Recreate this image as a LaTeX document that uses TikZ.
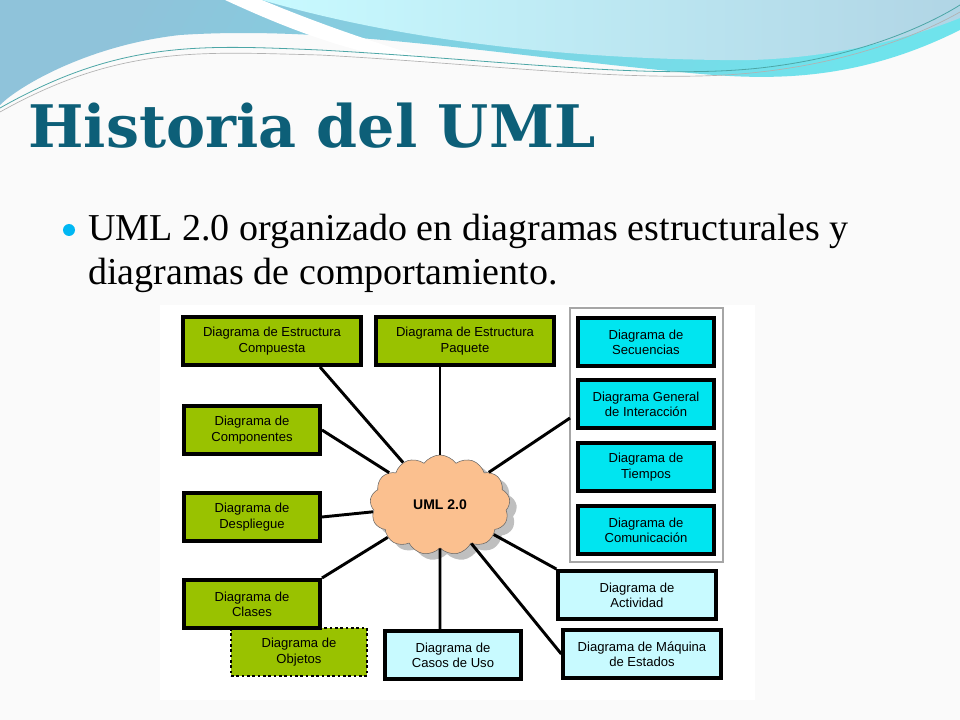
\documentclass[tikz,border=0pt]{standalone}
\usepackage{fontspec}
\setmainfont{Liberation Serif}
\newfontfamily\boxfont{Liberation Sans}
\newfontfamily\titlefont{DejaVu Serif}
\usetikzlibrary{shapes.symbols,positioning}
\definecolor{titleblue}{HTML}{0D5F78}
\definecolor{strgreen}{HTML}{99C200}
\definecolor{behcyan}{HTML}{00E5F0}
\definecolor{behlight}{HTML}{C8FAFF}
\definecolor{cloudorange}{HTML}{FBC08F}
\definecolor{wavea}{HTML}{8FC3DA}
\definecolor{waveb}{HTML}{6FE3EC}
\tikzset{
  diag/.style={draw=black, line width=3pt, align=center, inner sep=0pt,
    minimum height=36pt, font=\boxfont\fontsize{9.8}{11.5}\selectfont},
  strbox/.style={diag, fill=strgreen},
  behbox/.style={diag, fill=behcyan, minimum width=102pt},
  behlt/.style={diag, fill=behlight},
  link/.style={line width=2.2pt}
}
\begin{document}
\begin{tikzpicture}[x=0.75pt,y=-0.75pt]
  \useasboundingbox (0,0) rectangle (960,720);
  \fill[white!96!gray] (0,0) rectangle (960,720);
  % top waves
  \shade[left color=wavea, right color=waveb, shading angle=60]
    (0,0) -- (960,0) -- (960,30) .. controls (850,85) and (760,80) .. (680,72)
    .. controls (500,55) and (330,25) .. (180,35) .. controls (90,45) and (20,85) .. (0,105) -- cycle;
  \fill[white] (225,0) .. controls (290,30) and (340,48) .. (400,60)
    -- (440,62) .. controls (370,42) and (310,20) .. (262,0) -- cycle;
  \shade[left color=behlight, right color=wavea!70!white]
    (262,0) -- (960,0) -- (960,18) .. controls (880,50) and (790,62) .. (720,60)
    .. controls (560,58) and (400,40) .. (262,0) -- cycle;
  \draw[teal!70, line width=0.6pt] (0,108) .. controls (120,40) and (200,45) .. (320,50)
    .. controls (500,60) and (650,80) .. (760,68) .. controls (850,58) and (920,30) .. (960,5);
  \draw[gray!60, line width=0.5pt] (0,112) .. controls (120,45) and (200,52) .. (320,55)
    .. controls (500,65) and (650,85) .. (760,72) .. controls (850,62) and (920,35) .. (960,12);
  % title and bullet text
  \node[anchor=base west, text=titleblue, inner sep=0pt,
    font=\titlefont\bfseries\fontsize{44}{46}\selectfont] (title) at (28,148) {Historia del UML};
  \fill[behcyan!80!blue] (69,230) circle (6);
  \node[anchor=north west, align=left, inner sep=0pt,
    font=\fontsize{28.5}{33}\selectfont] (bullet) at (88,214)
    {UML 2.0 organizado en diagramas estructurales y\\diagramas de comportamiento.};
  % diagram panel
  \fill[white] (160,305) rectangle (755,700);
  \draw[gray!70, line width=0.8pt] (570,308) rectangle (723,562);
  \node[strbox, minimum width=133pt] (compuesta) at (272,341) {Diagrama de Estructura\\Compuesta};
  \node[strbox, minimum width=133pt] (paquete) at (465,341) {Diagrama de Estructura\\Paquete};
  \node[strbox, minimum width=102pt] (componentes) at (252,430) {Diagrama de\\Componentes};
  \node[strbox, minimum width=102pt] (despliegue) at (252,517) {Diagrama de\\Despliegue};
  \node[strbox, minimum width=102pt, line width=2pt, dotted] (objetos) at (299,652) {Diagrama de\\Objetos};
  \node[strbox, minimum width=102pt] (clases) at (252,604) {Diagrama de\\Clases};
  \node[behbox] (secuencias) at (646,342) {Diagrama de\\Secuencias};
  \node[behbox] (general) at (646,404) {Diagrama General\\de Interacción};
  \node[behbox] (tiempos) at (646,467) {Diagrama de\\Tiempos};
  \node[behbox] (comunicacion) at (646,530) {Diagrama de\\Comunicación};
  \node[behlt, minimum width=118pt] (actividad) at (637,595) {Diagrama de\\Actividad};
  \node[behlt, minimum width=118pt] (maquina) at (642,654) {Diagrama de Máquina\\de Estados};
  \node[behlt, minimum width=102pt] (casos) at (453,655) {Diagrama de\\Casos de Uso};
  \coordinate (grupo) at (570,418);
  % cloud
  \node[cloud, cloud puffs=13, cloud puff arc=110, aspect=1.5, fill=black!25,
    minimum width=105pt, minimum height=75pt] at (447,511) {};
  \node[cloud, cloud puffs=13, cloud puff arc=110, aspect=1.5, draw=black!60, fill=cloudorange,
    minimum width=105pt, minimum height=75pt, font=\boxfont\bfseries\fontsize{10.5}{12}\selectfont]
    (uml) at (440,505) {UML 2.0};
  % connectors
  \draw[link] (compuesta.south) ++(48,0) coordinate (c1) -- (uml);
  \draw[link] (paquete.south -| uml) -- (uml);
  \draw[link] (componentes.east) -- (uml);
  \draw[link] (despliegue.east) -- (uml);
  \draw[link] (clases.north east) -- (uml);
  \draw[link] (grupo) -- (uml);
  \draw[link] (actividad.north west) -- (uml);
  \draw[link] (maquina.west) -- (uml);
  \draw[link] (casos.north -| uml) -- (uml);
\end{tikzpicture}
\end{document}
